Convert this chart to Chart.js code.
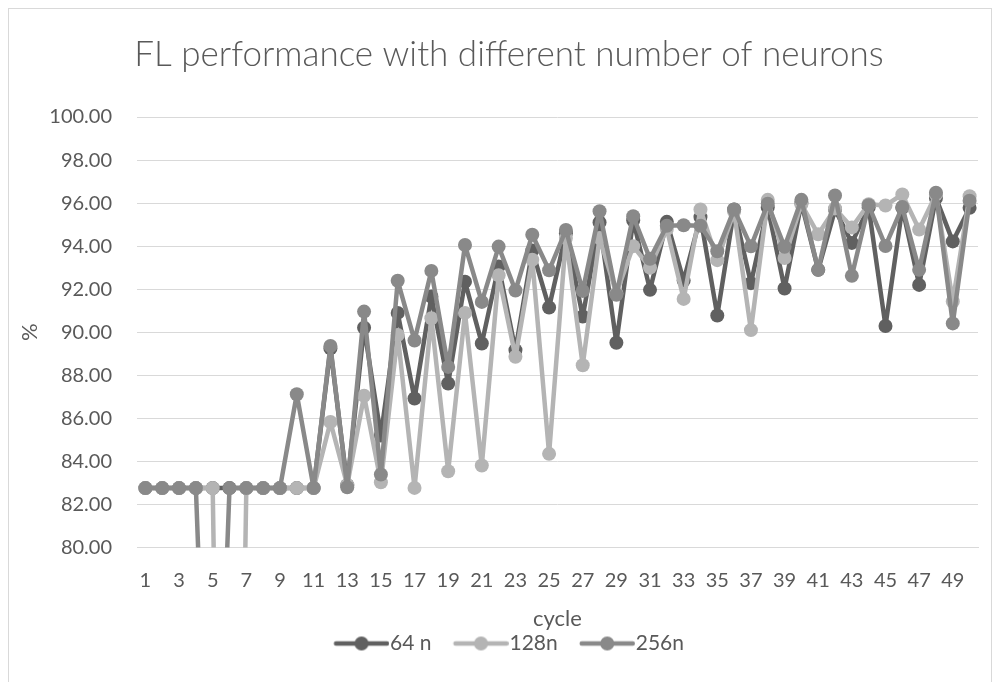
<!DOCTYPE html>
<html>
<head>
<meta charset="utf-8">
<script src="https://cdn.jsdelivr.net/npm/chart.js@4.4.1/dist/chart.umd.min.js"></script>
<style>
  html, body { margin: 0; padding: 0; background: #ffffff; }
  #wrap { position: relative; width: 1000px; height: 682px; overflow: hidden; }
  #frame { position: absolute; left: 8px; top: 8px; width: 984px; height: 700px; border: 1px solid #d9d9d9; box-sizing: border-box; }
  canvas { position: absolute; left: 0; top: 0; }
</style>
</head>
<body>
<div id="wrap">
  <div id="frame"></div>
  <canvas id="c" width="1000" height="682"></canvas>
</div>
<script>
const categories = [1,2,3,4,5,6,7,8,9,10,11,12,13,14,15,16,17,18,19,20,21,22,23,24,25,26,27,28,29,30,31,32,33,34,35,36,37,38,39,40,41,42,43,44,45,46,47,48,49,50];

const series64 = [82.76,82.76,82.76,82.76,82.76,82.76,82.76,82.76,82.76,82.76,
  82.76,89.25,82.90,90.21,85.20,90.90,86.92,91.66,87.62,92.35,
  89.48,93.06,89.17,93.80,91.15,94.60,90.73,95.10,89.51,95.20,
  91.97,95.13,92.40,95.35,90.78,95.70,92.28,95.80,92.03,96.00,
  92.90,95.70,94.15,95.80,90.29,95.78,92.20,96.24,94.22,95.78];

const series128 = [82.76,82.76,82.76,82.76,82.76,35.00,82.76,82.76,82.76,82.76,
  82.76,85.83,82.90,87.05,83.03,89.87,82.77,90.65,83.54,90.90,
  83.81,92.65,88.86,93.37,84.35,94.38,88.47,94.38,91.80,94.00,
  93.00,94.80,91.55,95.70,93.35,95.60,90.10,96.15,93.45,95.95,
  94.55,95.75,94.87,95.95,95.89,96.40,94.77,96.40,91.43,96.32];

const series256 = [82.76,82.76,82.76,82.76,62.00,82.76,82.76,82.76,82.76,87.12,
  82.77,89.36,82.80,90.96,83.39,92.39,89.62,92.85,88.39,94.05,
  91.41,93.98,91.94,94.53,92.88,94.75,91.92,95.62,91.74,95.39,
  93.41,94.95,94.97,94.95,93.76,95.70,93.99,95.97,93.97,96.15,
  92.90,96.35,92.62,95.90,94.01,95.82,92.90,96.48,90.41,96.11];

const seriesNames = ['64 n', '128n', '256n'];
const seriesColors = ['#606060', '#b4b4b4', '#898989'];
const yMin = 80, yMax = 100, yStep = 2;
const chartTitle = 'FL performance with different number of neurons';
const xTitle = 'cycle';
const yTitle = '%';

const FONT = 'Lato, "Open Sans", "Liberation Sans", sans-serif';
const TEXT = '#595959';
const LEGEND_FS = 21;
const MARK_LEN = 55;
const BOX_W = MARK_LEN + 1 - LEGEND_FS / 2;

function legendMarker(color) {
  const C = Math.ceil(2 * (MARK_LEN - BOX_W / 2));
  const a = C / 2 - BOX_W / 2;
  const cv = document.createElement('canvas');
  cv.width = C; cv.height = 18;
  const g = cv.getContext('2d');
  g.strokeStyle = color; g.lineWidth = 4.5; g.lineCap = 'round';
  g.beginPath(); g.moveTo(a + 2, 9); g.lineTo(a + MARK_LEN - 2, 9); g.stroke();
  g.fillStyle = color;
  g.beginPath(); g.arc(a + MARK_LEN / 2, 9, 7, 0, Math.PI * 2); g.fill();
  return cv;
}
const markers = seriesColors.map(legendMarker);

const allSeries = [series64, series128, series256];
const datasets = allSeries.map((d, i) => ({
  label: seriesNames[i],
  data: d,
  borderColor: seriesColors[i],
  backgroundColor: seriesColors[i],
  borderWidth: 4.5,
  borderJoinStyle: 'round',
  borderCapStyle: 'round',
  pointRadius: 7,
  pointHoverRadius: 7,
  pointBorderWidth: 0,
  pointBackgroundColor: seriesColors[i],
  tension: 0,
  order: 3 - i
}));

new Chart(document.getElementById('c'), {
  type: 'line',
  data: { labels: categories, datasets },
  options: {
    responsive: false,
    animation: false,
    devicePixelRatio: 1,
    layout: { padding: { left: 40, right: 22, top: 0, bottom: 18 } },
    plugins: {
      tooltip: { enabled: false },
      title: {
        display: true,
        text: chartTitle,
        color: TEXT,
        font: { family: FONT, size: 35, weight: '300' },
        padding: { top: 34, bottom: 41 }
      },
      legend: {
        position: 'bottom',
        labels: {
          usePointStyle: true,
          pointStyleWidth: BOX_W,
          color: TEXT,
          font: { family: FONT, size: LEGEND_FS },
          padding: 22,
          generateLabels: (chart) => seriesNames.map((n, i) => ({
            text: n,
            pointStyle: markers[i],
            fillStyle: seriesColors[i],
            strokeStyle: seriesColors[i],
            lineWidth: 0,
            hidden: false,
            datasetIndex: i,
            fontColor: TEXT
          }))
        }
      }
    },
    scales: {
      x: {
        type: 'category',
        offset: true,
        grid: { display: false, drawTicks: false },
        border: { display: true, color: '#d9d9d9', width: 1 },
        ticks: {
          autoSkip: false,
          maxRotation: 0,
          minRotation: 0,
          padding: 21,
          color: TEXT,
          font: { family: FONT, size: 20 },
          callback: function (v, i) { return i % 2 === 0 ? String(categories[i]) : ''; }
        },
        title: {
          display: true,
          text: xTitle,
          color: TEXT,
          font: { family: FONT, size: 22 },
          padding: { top: 0, bottom: -20.7 }
        },
        afterFit: (s) => { s.height = 63.5; }
      },
      y: {
        min: yMin,
        max: yMax,
        grid: { color: '#d9d9d9', lineWidth: 1, drawTicks: false },
        border: { display: false },
        ticks: {
          stepSize: yStep,
          padding: 25,
          color: TEXT,
          font: { family: FONT, size: 20 },
          callback: (v) => Number(v).toFixed(2)
        },
        title: {
          display: true,
          text: yTitle,
          color: TEXT,
          font: { family: FONT, size: 22 },
          padding: { top: -23.2, bottom: 0 }
        },
        afterFit: (s) => { s.width = 97; }
      }
    }
  }
});
</script>
</body>
</html>
